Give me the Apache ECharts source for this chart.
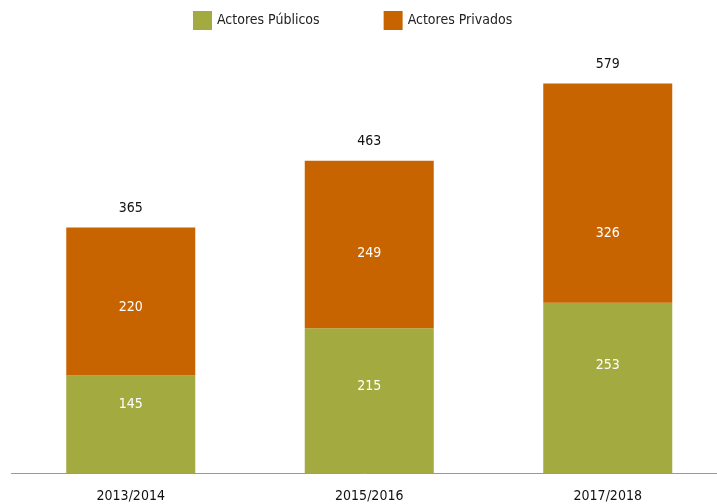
<!DOCTYPE html>
<html>
<head>
<meta charset="utf-8">
<script src="https://cdn.jsdelivr.net/npm/echarts@6/dist/echarts.min.js"></script>
<style>
html, body { margin: 0; padding: 0; background: #fff; }
#chart { width: 717px; height: 504px; }
</style>
</head>
<body>
<div id="chart"></div>
<script>
var categories = ['2013/2014', '2015/2016', '2017/2018'];
var publicos = [145, 215, 253];
var privados = [220, 249, 326];
var totals = [365, 463, 579];

// vertical nudges of the inside labels, as placed in the original
var publicosShift = [-20, -14, -23];
var privadosShift = [6, 9, 40];

var fontFamily = '"DejaVu Sans Condensed", "Open Sans", sans-serif';

function withShift(values, shifts) {
    return values.map(function(v, i) {
        return { value: v, label: { offset: [0, shifts[i]] } };
    });
}

var insideLabel = { show: true, position: 'inside', color: '#fff', fontSize: 14, fontFamily: fontFamily };

var chart = echarts.init(document.getElementById('chart'));
chart.setOption({
    animation: false,
    textStyle: { fontFamily: fontFamily },
    legend: {
        top: 11,
        left: 193,
        padding: 0,
        itemWidth: 19,
        itemHeight: 19,
        itemGap: 64,
        icon: 'rect',
        data: ['Actores Públicos', 'Actores Privados'],
        textStyle: { fontSize: 14, color: '#222', fontFamily: fontFamily }
    },
    grid: { left: 11.5, width: 715.5, top: 2, bottom: 31, outerBoundsMode: 'none', containLabel: false },
    xAxis: {
        type: 'category',
        data: categories,
        axisLine: { lineStyle: { color: '#999', width: 1 } },
        axisTick: { show: false },
        axisLabel: { color: '#111', fontSize: 14, margin: 16, fontFamily: fontFamily }
    },
    yAxis: {
        type: 'value',
        min: 0,
        max: 700,
        show: false,
        splitLine: { show: false }
    },
    series: [
        {
            name: 'Actores Públicos',
            type: 'bar',
            stack: 'total',
            barWidth: 129,
            data: withShift(publicos, publicosShift),
            itemStyle: { color: '#A3AA3F' },
            label: insideLabel
        },
        {
            name: 'Actores Privados',
            type: 'bar',
            stack: 'total',
            barWidth: 129,
            data: withShift(privados, privadosShift),
            itemStyle: { color: '#C86400' },
            label: insideLabel
        },
        {
            name: 'Total',
            type: 'bar',
            stack: 'total',
            barWidth: 129,
            data: totals.map(function() { return 0; }),
            itemStyle: { color: 'transparent' },
            label: {
                show: true,
                position: 'top',
                distance: 12,
                color: '#111',
                fontSize: 14,
                fontFamily: fontFamily,
                formatter: function(p) { return totals[p.dataIndex]; }
            }
        }
    ]
});
</script>
</body>
</html>
